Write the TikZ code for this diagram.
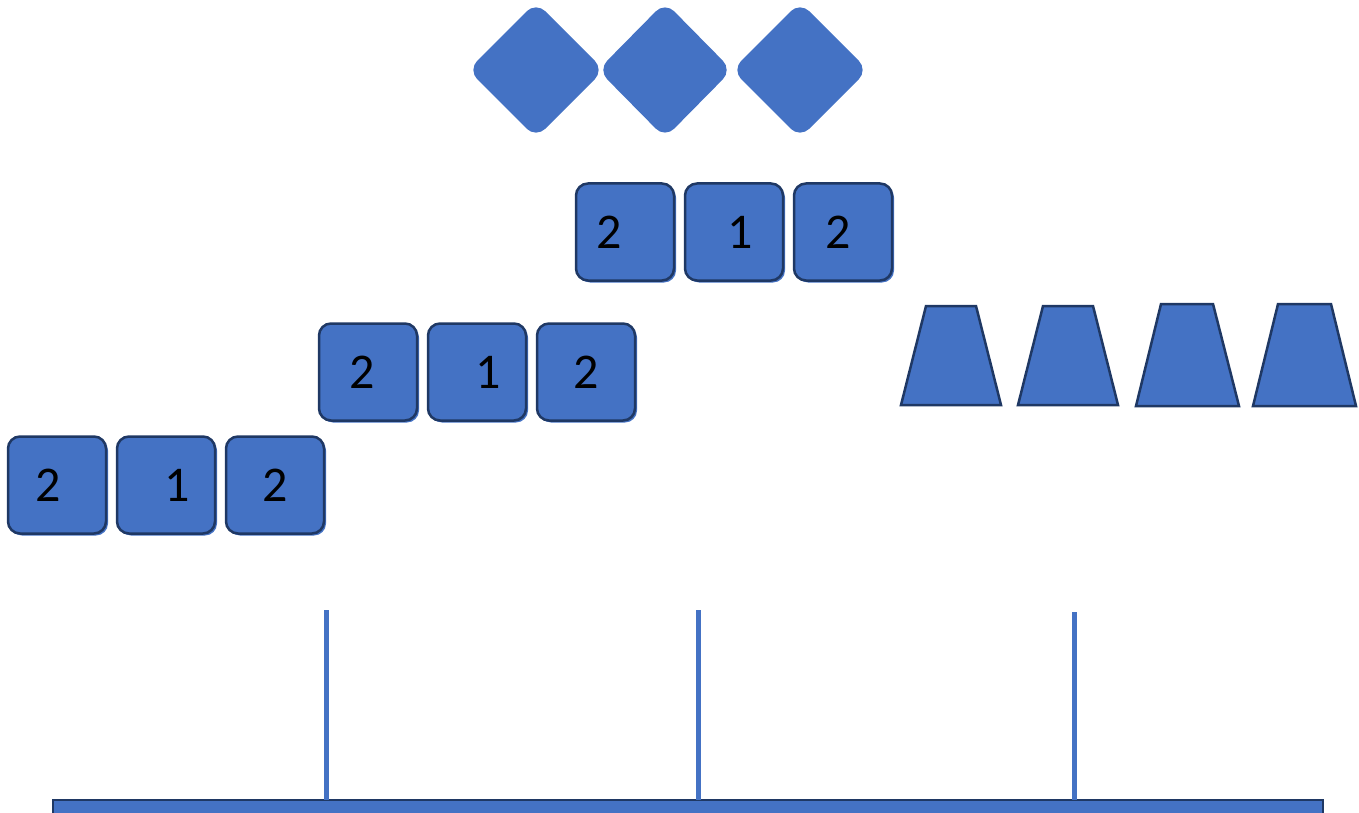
\documentclass[tikz,border=0pt]{standalone}
\usepackage{fontspec}
\setmainfont{Carlito}
\definecolor{fillblue}{HTML}{4472C4}
\definecolor{darkblue}{HTML}{1F3864}
\tikzset{
  tile/.style={draw=darkblue, fill=fillblue, line width=2.5pt, rounded corners=12pt,
    minimum width=98pt, minimum height=97pt, inner sep=0pt},
  tileshadow/.style={fill=fillblue, rounded corners=12pt, minimum width=98pt,
    minimum height=97pt, inner sep=0pt},
  digit/.style={font=\fontsize{50pt}{50pt}\selectfont, text=black, inner sep=0pt},
  gem/.style={fill=fillblue, rounded corners=13pt},
  cup/.style={draw=darkblue, fill=fillblue, line width=2.5pt, line join=miter},
  post/.style={draw=fillblue, line width=5pt},
  base/.style={fill=fillblue}
}
\begin{document}
\begin{tikzpicture}[x=1pt,y=-1pt]
\useasboundingbox (0,0) rectangle (1359,813);
% diamonds
\foreach \cx/\hx [count=\i] in {536/68,665/67,800/68}{
  \fill[gem] (\cx-\hx,70) -- (\cx,2) -- (\cx+\hx,70) -- (\cx,138) -- cycle;
}
% tiles
\foreach \nm/\cx/\cy/\dx/\lab in {
  a1/57/485/-9/2, a2/166/485/11/1, a3/275/485/0/2,
  b1/368/372/-6/2, b2/477/372/11/1, b3/586/372/0/2,
  c1/625/232/-16/2, c2/734/232/6/1, c3/843/232/-5/2}{
  \node[tileshadow] at (\cx+2,\cy+2) {};
  \node[tile] (\nm) at (\cx,\cy) {};
  \node[digit] (t\nm) at ([xshift=\dx pt]\nm.center) {\lab};
}
% trapezoids
\draw[cup] (901,405) -- (926,306) -- (976,306) -- (1001,405) -- cycle;
\draw[cup] (1018,405) -- (1043,306) -- (1093,306) -- (1118,405) -- cycle;
\draw[cup] (1136,406) -- (1161,304) -- (1213,304) -- (1239,406) -- cycle;
\draw[cup] (1253,406) -- (1278,304) -- (1331,304) -- (1356,406) -- cycle;
% base bar
\fill[base] (53,799) rectangle (1323,820);
\draw[darkblue, line width=2pt] (53,820) -- (53,799.5) -- (1323,799.5) -- (1323,820);
% posts
\coordinate (p1t) at (326,610); \coordinate (p1b) at (326,800);
\coordinate (p2t) at (698,610); \coordinate (p2b) at (698,800);
\coordinate (p3t) at (1074,612); \coordinate (p3b) at (1074,800);
\draw[post] (p1t) -- (p1b);
\draw[post] (p2t) -- (p2b);
\draw[post] (p3t) -- (p3b);
\end{tikzpicture}
\end{document}
